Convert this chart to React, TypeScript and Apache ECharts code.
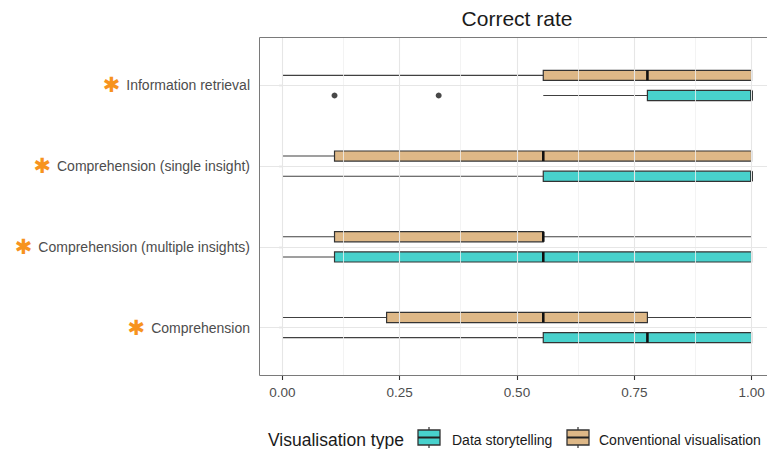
import React, { useEffect, useRef } from 'react';
import * as echarts from 'echarts';

const categories = [
  'Comprehension',
  'Comprehension (multiple insights)',
  'Comprehension (single insight)',
  'Information retrieval',
];
const groupNames = ['Data storytelling', 'Conventional visualisation'];
// [min, q1, median, q3, max] per category, bottom to top
const storytellingStats = [
  [0, 0.556, 0.778, 1, 1],
  [0, 0.111, 0.556, 1, 1],
  [0, 0.556, 1, 1, 1],
  [0.556, 0.778, 1, 1, 1],
];
const conventionalStats = [
  [0, 0.222, 0.556, 0.778, 1],
  [0, 0.111, 0.556, 0.556, 1],
  [0, 0.111, 0.556, 1, 1],
  [0, 0.556, 0.778, 1, 1],
];
// [categoryIndex, value]
const storytellingOutliers = [
  [3, 0.111],
  [3, 0.333],
];
const xTicks = [0, 0.25, 0.5, 0.75, 1];
const xMinorTicks = [0.125, 0.375, 0.625, 0.875];

const TEAL = '#48D1CC';
const TAN = '#DEB887';
const DODGE = 0.125;
const HALF_BOX = 0.0625;

function makeRender(offset: number, fill: string) {
  return (params: any, api: any) => {
    const c = api.value(0) + 1 + offset;
    const yc = api.coord([0, c])[1];
    const yt = api.coord([0, c + HALF_BOX])[1];
    const yb = api.coord([0, c - HALF_BOX])[1];
    const xs = [1, 2, 3, 4, 5].map((i) => api.coord([api.value(i), c])[0]);
    const whisker = { stroke: '#404040', lineWidth: 1.1 };
    return {
      type: 'group',
      children: [
        { type: 'line', shape: { x1: xs[0], y1: yc, x2: xs[1], y2: yc }, style: whisker },
        { type: 'line', shape: { x1: xs[3], y1: yc, x2: xs[4], y2: yc }, style: whisker },
        {
          type: 'rect',
          shape: { x: xs[1], y: yt, width: xs[3] - xs[1], height: yb - yt },
          style: { fill, stroke: '#333333', lineWidth: 1.2 },
        },
        {
          type: 'line',
          shape: { x1: xs[2], y1: yt, x2: xs[2], y2: yb },
          style: { stroke: '#111111', lineWidth: 2.6 },
        },
      ],
    };
  };
}

function legendKey(x: number, fill: string) {
  const w = 22;
  const top = 430;
  const h = 15;
  const cx = x + w / 2;
  return [
    { type: 'line', shape: { x1: cx, y1: top - 3, x2: cx, y2: top }, style: { stroke: '#333', lineWidth: 1.2 } },
    { type: 'line', shape: { x1: cx, y1: top + h, x2: cx, y2: top + h + 3 }, style: { stroke: '#333', lineWidth: 1.2 } },
    { type: 'rect', shape: { x, y: top, width: w, height: h }, style: { fill, stroke: '#333', lineWidth: 1.3 } },
    { type: 'line', shape: { x1: x, y1: top + h / 2, x2: x + w, y2: top + h / 2 }, style: { stroke: '#222', lineWidth: 2 } },
  ];
}

export default function App() {
  const ref = useRef<HTMLDivElement>(null);
  useEffect(() => {
    if (!ref.current) return;
    const chart = echarts.init(ref.current, null, { renderer: 'svg' });
    const font = 'Liberation Sans, Arial, Helvetica, sans-serif';
    const gridLines: any[] = [
      ...xMinorTicks.map((v) => ({ xAxis: v, lineStyle: { color: '#F0F0F0', width: 0.8, type: 'solid' } })),
      ...xTicks.map((v) => ({ xAxis: v, lineStyle: { color: '#E6E6E6', width: 1.1, type: 'solid' } })),
      ...categories.map((_, i) => ({ yAxis: i + 1, lineStyle: { color: '#E6E6E6', width: 1.1, type: 'solid' } })),
    ];
    chart.setOption({
      animation: false,
      textStyle: { fontFamily: font },
      grid: {
        left: 259,
        top: 37,
        width: 516,
        height: 339,
        show: false,
        containLabel: false,
        outerBoundsMode: 'none',
      },
      xAxis: {
        type: 'value',
        min: -0.05,
        max: 1.05,
        axisLine: { show: false },
        splitLine: { show: false },
        axisTick: { show: true, customValues: xTicks, length: 4, lineStyle: { color: '#333', width: 1.1 } },
        axisLabel: {
          customValues: xTicks,
          formatter: (v: number) => v.toFixed(2),
          color: '#4D4D4D',
          fontSize: 13.5,
          margin: 9,
          hideOverlap: false,
          fontFamily: font,
        },
      },
      yAxis: {
        type: 'value',
        min: 0.4,
        max: 4.6,
        axisLine: { show: false },
        splitLine: { show: false },
        axisTick: { show: true, customValues: [1, 2, 3, 4], length: 4, lineStyle: { color: '#333', width: 1.1 } },
        axisLabel: {
          customValues: [1, 2, 3, 4],
          formatter: (v: number) => '{s|✱}{t|' + categories[Math.round(v) - 1] + '}',
          margin: 9,
          rich: {
            s: { color: '#F7931E', fontSize: 21, fontFamily: 'DejaVu Sans', padding: [0, 6, 0, 0] },
            t: { color: '#4D4D4D', fontSize: 14, fontFamily: font },
          },
        },
      },
      graphic: [
        {
          type: 'polyline',
          z: 100,
          silent: true,
          shape: { points: [[800, 37.5], [259.5, 37.5], [259.5, 375.5], [800, 375.5]] },
          style: { fill: 'none', stroke: '#7a7a7a', lineWidth: 1 },
        },
        {
          type: 'text',
          x: 517,
          y: 18,
          style: {
            text: 'Correct rate',
            fill: '#1a1a1a',
            font: '21px ' + font,
            textAlign: 'center',
            textVerticalAlign: 'middle',
          },
        },
        {
          type: 'text',
          x: 268,
          y: 440,
          style: { text: 'Visualisation type', fill: '#1a1a1a', font: '17.5px ' + font, textVerticalAlign: 'middle' },
        },
        ...legendKey(418, TEAL),
        {
          type: 'text',
          x: 452,
          y: 440,
          style: { text: groupNames[0], fill: '#1a1a1a', font: '14px ' + font, textVerticalAlign: 'middle' },
        },
        ...legendKey(567, TAN),
        {
          type: 'text',
          x: 599,
          y: 440,
          style: { text: groupNames[1], fill: '#1a1a1a', font: '14px ' + font, textVerticalAlign: 'middle' },
        },
      ],
      series: [
        {
          type: 'line',
          data: [],
          silent: true,
          z: 1,
          markLine: {
            silent: true,
            symbol: ['none', 'none'],
            label: { show: false },
            emphasis: { disabled: true },
            data: gridLines,
          },
        },
        {
          name: groupNames[1],
          type: 'custom',
          z: 3,
          renderItem: makeRender(DODGE, TAN),
          data: conventionalStats.map((s, i) => [i, ...s]),
        },
        {
          name: groupNames[0],
          type: 'custom',
          z: 3,
          renderItem: makeRender(-DODGE, TEAL),
          data: storytellingStats.map((s, i) => [i, ...s]),
        },
        {
          type: 'scatter',
          z: 4,
          symbol: 'circle',
          symbolSize: 6,
          itemStyle: { color: '#1a1a1a' },
          data: storytellingOutliers.map(([ci, v]) => [v, ci + 1 - DODGE]),
        },
      ],
    });
    return () => chart.dispose();
  }, []);
  return <div ref={ref} style={{ position: 'absolute', left: 0, top: 0, width: 767, height: 449 }} />;
}
